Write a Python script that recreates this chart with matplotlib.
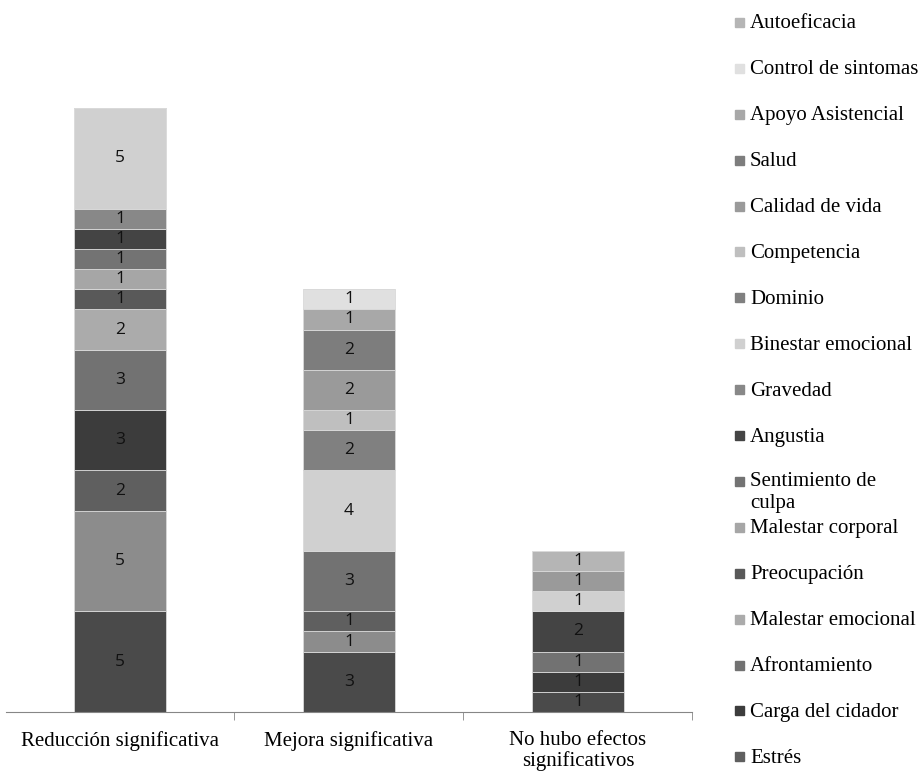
import numpy as np
import matplotlib.pyplot as plt
from matplotlib.patches import Rectangle

# categories on the x axis
categories = ['Reducción significativa', 'Mejora significativa', 'No hubo efectos\nsignificativos']

# series in stack order (bottom -> top); the first two are cut off from the legend in the source
series_names = ['', '', 'Estrés', 'Carga del cidador', 'Afrontamiento', 'Malestar emocional',
                'Preocupación', 'Malestar corporal', 'Sentimiento de\nculpa', 'Angustia', 'Gravedad',
                'Binestar emocional', 'Dominio', 'Competencia', 'Calidad de vida', 'Salud',
                'Apoyo Asistencial', 'Control de sintomas', 'Autoeficacia']

values = [
    [5, 3, 1],
    [5, 1, 0],
    [2, 1, 0],
    [3, 0, 1],
    [3, 3, 1],
    [2, 0, 0],
    [1, 0, 0],
    [1, 0, 0],
    [1, 0, 0],
    [1, 0, 2],
    [1, 0, 0],
    [5, 4, 1],
    [0, 2, 0],
    [0, 1, 0],
    [0, 2, 1],
    [0, 2, 0],
    [0, 1, 0],
    [0, 1, 0],
    [0, 0, 1],
]

colors = ['#4a4a4a', '#8c8c8c', '#5f5f5f', '#3c3c3c', '#727272', '#ababab',
          '#595959', '#a6a6a6', '#737373', '#444444', '#888888',
          '#d0d0d0', '#808080', '#bfbfbf', '#9a9a9a', '#7d7d7d',
          '#a8a8a8', '#e0e0e0', '#b5b5b5']

W, H = 919, 774
fig = plt.figure(figsize=(W / 100, H / 100), dpi=100)
ax = fig.add_axes([5.5 / W, (H - 712) / H, 687 / W, 35 * 20.13 / H])

x = np.arange(len(categories))
bottom = np.zeros(len(categories))
for name, vals, col in zip(series_names, values, colors):
    vals = np.array(vals, dtype=float)
    bars = ax.bar(x, vals, width=0.4, bottom=bottom, color=col,
                  edgecolor='#d9d9d9', linewidth=0.6)
    labels = [str(int(v)) if v > 0 else '' for v in vals]
    ax.bar_label(bars, labels=labels, label_type='center',
                 fontsize=12.5, family='Open Sans', color='#111111')
    bottom += vals

ax.set_xlim(-0.5, 2.5)
ax.set_ylim(0, 35)
for s in ['top', 'right', 'left']:
    ax.spines[s].set_visible(False)
ax.spines['bottom'].set_color('#868686')
ax.set_yticks([])
ax.set_xticks(x)
ax.set_xticklabels(categories, family='Liberation Serif', fontsize=15, linespacing=1.05)
ax.tick_params(axis='x', which='major', length=0, pad=14)
ax.set_xticks([0.5, 1.5, 2.5], minor=True)
ax.tick_params(axis='x', which='minor', length=6, color='#868686', direction='out')

# legend drawn by hand, top entry = last series, as in the source
y = 22
step = 45.9
for name, col in zip(series_names[::-1], colors[::-1]):
    if not name:
        continue
    fig.add_artist(Rectangle((735 / W, 1 - (y + 5) / H), 9 / W, 9 / H,
                             transform=fig.transFigure, color=col))
    if '\n' in name:
        fig.text(750 / W, 1 - (y - 9) / H, name, family='Liberation Serif', fontsize=15,
                 va='top', ha='left', linespacing=1.2)
    else:
        fig.text(750 / W, 1 - (y + 2) / H, name, family='Liberation Serif', fontsize=15,
                 va='center', ha='left')
    y += step

fig.savefig('out.png', dpi=100)
